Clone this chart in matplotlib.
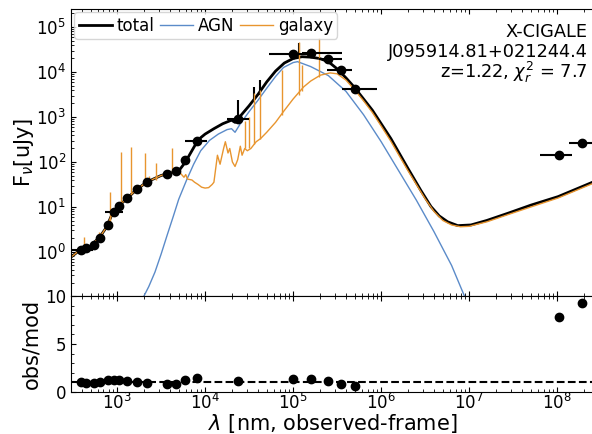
import numpy as np
import matplotlib
matplotlib.use('Agg')
import matplotlib.pyplot as plt

# photometry (observed-frame wavelength in nm, flux in uJy)
obs_wl = np.array([386, 444, 551, 640, 796, 925, 1046, 1290, 1700, 2210,
                   3680, 4660, 5940, 8080, 23400, 1.0e5, 1.58e5, 2.48e5,
                   3.47e5, 5.0e5, 1.035e8, 1.93e8])
obs_flux = np.array([1.1, 1.2, 1.43, 2.0, 4.0, 7.9, 10.7, 16, 25, 36,
                     54, 62, 110, 290, 890, 2.45e4, 2.7e4, 1.9e4,
                     1.1e4, 4.1e3, 140, 260])
# filter widths (lower / upper wavelength edges, nm)
obs_wl_lo = np.array([305, 425, 530, 610, 796, 730, 1046, 1290, 1700, 2210,
                      3680, 4660, 5600, 5940, 17700, 5.25e4, 1.27e5, 1.95e5,
                      2.44e5, 3.62e5, 6.4e7, 1.37e8])
obs_wl_hi = np.array([533, 490, 551, 690, 796, 1170, 1046, 1290, 1700, 2210,
                      3680, 4660, 6500, 10600, 31300, 1.58e5, 3.62e5, 3.62e5,
                      4.71e5, 9.08e5, 1.48e8, 2.8e8])
ratio = np.array([1.0, 0.95, 0.95, 1.0, 1.25, 1.2, 1.2, 1.1, 1.05, 0.9,
                  0.8, 0.85, 1.25, 1.5, 1.15, 1.3, 1.35, 1.15, 0.85, 0.65,
                  7.84, 9.24])

# best-fit model components, log10(wavelength) vs log10(flux)
total_logwl = np.array([2.46, 2.55, 2.62, 2.70, 2.76, 2.82, 2.88, 2.93, 2.98,
                        3.05, 3.12, 3.20, 3.30, 3.40, 3.50, 3.60, 3.70, 3.75,
                        3.80, 3.85, 3.90, 3.95, 4.00, 4.10, 4.20, 4.30, 4.34,
                        4.40, 4.50, 4.60, 4.70, 4.80, 4.90, 5.00, 5.10, 5.20,
                        5.30, 5.40, 5.50, 5.60, 5.70, 5.80, 5.90, 6.00, 6.11,
                        6.30, 6.45, 6.565, 6.66, 6.755, 6.87, 7.02, 7.20,
                        7.44, 7.70, 8.01, 8.45])
total_logf = np.array([-0.14, 0.0, 0.06, 0.13, 0.25, 0.38, 0.55, 0.78, 0.95,
                       1.08, 1.20, 1.35, 1.50, 1.61, 1.70, 1.75, 1.80, 1.93,
                       2.08, 2.25, 2.42, 2.54, 2.62, 2.74, 2.85, 2.93, 2.88,
                       3.02, 3.25, 3.50, 3.78, 4.02, 4.20, 4.30, 4.34, 4.33,
                       4.30, 4.23, 4.07, 3.87, 3.65, 3.40, 3.15, 2.85, 2.52,
                       1.87, 1.37, 1.01, 0.80, 0.67, 0.585, 0.60, 0.70,
                       0.86, 1.04, 1.23, 1.59])

agn_logwl = np.array([3.30, 3.36, 3.43, 3.50, 3.57, 3.64, 3.70, 3.79, 3.87,
                      3.95, 4.05, 4.15, 4.25, 4.30, 4.34, 4.40, 4.50, 4.60,
                      4.70, 4.80, 4.89, 5.00, 5.05, 5.20, 5.40, 5.60, 5.80,
                      6.00, 6.20, 6.40, 6.60, 6.80, 6.95])
agn_logf = np.array([-1.0, -0.77, -0.45, -0.05, 0.38, 0.80, 1.17, 1.60, 1.95,
                     2.25, 2.48, 2.62, 2.72, 2.74, 2.66, 2.85, 3.12, 3.37,
                     3.64, 3.90, 4.10, 4.21, 4.23, 4.12, 3.92, 3.57, 3.05,
                     2.45, 1.80, 1.15, 0.45, -0.30, -1.00])

gal_logwl = np.array([2.46, 2.55, 2.62, 2.70, 2.76, 2.82, 2.88, 2.93, 2.98,
                      3.05, 3.12, 3.20, 3.30, 3.40, 3.50, 3.60, 3.72, 3.76,
                      3.78, 3.80, 3.85, 3.88, 3.92, 3.96, 4.00, 4.04, 4.08,
                      4.10, 4.14, 4.17, 4.21, 4.23, 4.26, 4.28, 4.31, 4.34,
                      4.37, 4.40, 4.42, 4.45, 4.48, 4.52, 4.58, 4.63, 4.70,
                      4.80, 4.89, 5.00, 5.12, 5.20, 5.31, 5.42, 5.50, 5.60,
                      5.70, 5.80, 5.90, 6.00, 6.11, 6.30, 6.50, 6.60, 6.70,
                      6.80, 6.90, 7.00, 7.20, 7.44, 7.70, 8.01, 8.45])
gal_logf = np.array([-0.14, 0.0, 0.06, 0.13, 0.25, 0.38, 0.55, 0.78, 0.95,
                     1.08, 1.20, 1.35, 1.50, 1.61, 1.70, 1.75, 1.75, 1.66,
                     1.72, 1.62, 1.60, 1.55, 1.50, 1.44, 1.42, 1.43, 1.50,
                     1.55, 2.15, 1.95, 2.30, 2.45, 2.20, 2.30, 2.00, 1.90,
                     2.05, 2.35, 2.15, 2.30, 2.25, 2.30, 2.45, 2.52, 2.66,
                     2.88, 3.12, 3.40, 3.67, 3.80, 3.93, 3.98, 3.96, 3.82,
                     3.60, 3.36, 3.10, 2.80, 2.46, 1.82, 1.18, 0.90, 0.70,
                     0.60, 0.56, 0.57, 0.67, 0.83, 1.00, 1.20, 1.56])

# emission lines of the galaxy component: wavelength, continuum, peak
gal_line_wl = np.array([424, 622, 827, 1096, 1457, 2090, 2290, 2780, 4170,
                        2.82e4, 3.16e4, 3.56e4, 4.2e4, 7.5e4, 1.16e5,
                        1.26e5, 1.95e5])
gal_line_base = np.array([1.1, 1.9, 4.5, 12.6, 20, 31, 33, 40, 56,
                          200, 200, 250, 320, 1120, 3160, 3700, 7900])
gal_line_peak = np.array([2.2, 2.8, 21, 170, 220, 155, 50, 93, 200,
                          800, 1000, 3400, 4000, 1.1e4, 4.7e4,
                          1.45e4, 5.6e4])

# the same lines on top of the total model
tot_line_wl = np.array([2.34e4, 3.56e4, 4.2e4, 1.16e5])
tot_line_base = np.array([930, 2400, 3160, 2.14e4])
tot_line_peak = np.array([2400, 4700, 6600, 4.5e4])

info_lines = ['X-CIGALE', 'J095914.81+021244.4', r'z=1.22, $\chi^2_r$ = 7.7']

agn_color = '#5b8bc9'
gal_color = '#e8952f'

fig = plt.figure(figsize=(5.92, 4.34), dpi=100)
ax = fig.add_axes([0.120, 0.318, 0.883, 0.661])
ax_r = fig.add_axes([0.120, 0.097, 0.883, 0.221], sharex=ax)

ax.plot(10**total_logwl, 10**total_logf, color='black', lw=2, label='total')
ax.vlines(tot_line_wl, tot_line_base, tot_line_peak, color='black', lw=1.5)
ax.plot(10**agn_logwl, 10**agn_logf, color=agn_color, lw=1, label='AGN')
ax.plot(10**gal_logwl, 10**gal_logf, color=gal_color, lw=1, label='galaxy')
ax.vlines(gal_line_wl, gal_line_base, gal_line_peak, color=gal_color, lw=1)

xerr = [obs_wl - obs_wl_lo, obs_wl_hi - obs_wl]
ax.errorbar(obs_wl, obs_flux, xerr=xerr, fmt='o', color='black',
            ms=6, elinewidth=1.5, capsize=0, zorder=5)

ax.set_xscale('log')
ax.set_yscale('log')
ax.set_xlim(300, 2.6e8)
ax.set_ylim(0.105, 2.5e5)
ax.set_ylabel(r'F$_{\nu}$[uJy]', fontsize=15, labelpad=0)
ax.tick_params(axis='both', which='both', direction='in', top=True,
               labelsize=12)
ax.tick_params(axis='x', labelbottom=False)

ax.legend(loc='upper left', ncol=3, fontsize=12, handlelength=2,
          handletextpad=0.3, columnspacing=0.3, borderpad=0.25,
          borderaxespad=0.2)

# source info, one line per text so the spacing stays even
for y, line in zip([0.902, 0.833, 0.760], info_lines):
    ax.text(0.988, y, line, transform=ax.transAxes, ha='right',
            va='baseline', fontsize=12.8)

# residual panel
ax_r.axhline(1, color='black', ls='--', lw=1.5)
ax_r.plot(obs_wl, ratio, 'o', color='black', ms=6)
ax_r.set_ylim(0, 10)
ax_r.set_yticks([0, 5, 10])
ax_r.set_yticks(np.arange(0, 10, 1), minor=True)
ax_r.set_ylabel('obs/mod', fontsize=15, labelpad=3)
ax_r.set_xlabel(r'$\lambda$ [nm, observed-frame]', fontsize=15, labelpad=-1)
ax_r.tick_params(axis='both', which='both', direction='in', top=True,
                 labelsize=12)
ax_r.tick_params(axis='x', pad=1)

fig.savefig('out.png', dpi=100)
